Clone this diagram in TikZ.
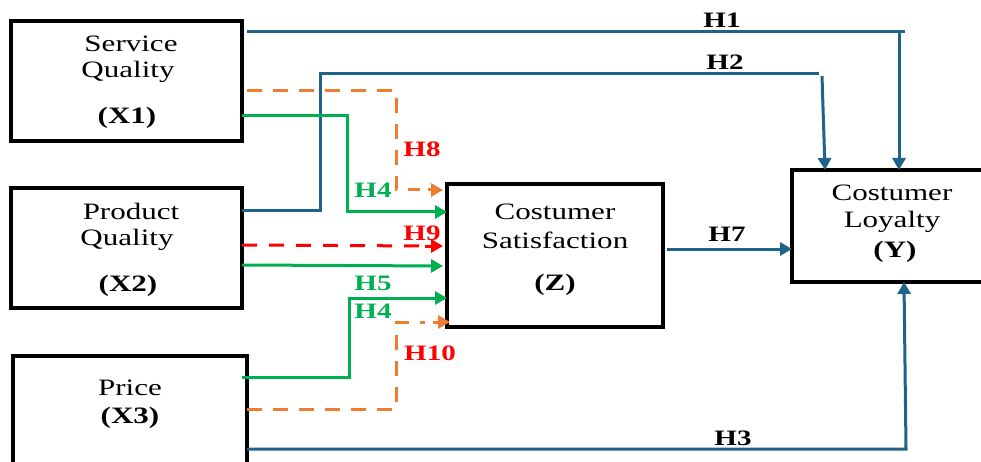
\documentclass[tikz,border=0pt]{standalone}
\usepackage{fontspec}
\setmainfont[FakeStretch=1.32]{Liberation Serif}
\usetikzlibrary{arrows.meta}
\definecolor{cblue}{HTML}{1F6388}
\definecolor{cgreen}{HTML}{00B050}
\definecolor{corange}{HTML}{ED7D31}
\definecolor{cred}{HTML}{FF0000}
\tikzset{
  box/.style={draw=black,line width=3.5pt,inner sep=0pt},
  txt/.style={font=\fontsize{23.5}{27}\selectfont,align=center,inner sep=0pt},
  btxt/.style={font=\fontsize{23.5}{27}\selectfont\bfseries,align=center,inner sep=0pt},
  hlab/.style={font=\fontsize{22}{25}\selectfont\bfseries,inner sep=0pt},
  tip/.style={-{Triangle[length=12pt,width=13pt]}},
  bl/.style={draw=cblue,line width=3pt},
  gr/.style={draw=cgreen,line width=3pt},
  og/.style={draw=corange,line width=3pt,dash pattern=on 15pt off 11pt},
  rd/.style={draw=cred,line width=3pt,dash pattern=on 15pt off 12pt},
}
\begin{document}
\begin{tikzpicture}[x=1pt,y=-1pt]
\useasboundingbox (0,0) rectangle (981,462);
% cut-off caption letter
\node[txt,anchor=base] (cap) at (265,-6) {p};
% boxes
\draw[box] (11,21) rectangle (242,141);
\draw[box] (11,188) rectangle (242,308);
\draw[box] (13,356) rectangle (247,480);
\draw[box] (447,184) rectangle (663,327);
\draw[box] (792,170) rectangle (985,282);
% named anchor coordinates
\coordinate (x1a) at (247,32);
\coordinate (x1b) at (247,91);
\coordinate (x1c) at (242,116);
\coordinate (x2a) at (242,211);
\coordinate (x2b) at (242,245);
\coordinate (x2c) at (242,265);
\coordinate (x3a) at (242,377);
\coordinate (x3b) at (247,409);
\coordinate (x3c) at (247,449);
% texts
\node[txt] (t1) at (131,44) {Service};
\node[txt] (t2) at (128,72) {Quality};
\node[btxt] (t3) at (127,118) {(X1)};
\node[txt] (t4) at (131,211) {Product};
\node[txt] (t5) at (127,240) {Quality};
\node[btxt] (t6) at (128,286) {(X2)};
\node[txt] (t7) at (130,388) {Price};
\node[btxt] (t8) at (130,418) {(X3)};
\node[txt] (t9) at (555,212) {Costumer};
\node[txt] (t10) at (555,240) {Satisfaction};
\node[btxt] (t11) at (555,285) {(Z)};
\node[txt] (t12) at (892,193) {Costumer};
\node[txt] (t13) at (892,222) {Loyalty};
\node[btxt] (t14) at (895,252) {(Y)};
% blue paths
\draw[bl] (x1a) -- (905,32);
\draw[bl,tip] (899,32) -- (899,170);
\draw[bl] (x2a) -- (320,211) -- (320,74) -- (819,74);
\draw[bl,tip] (822,76) -- (825,170);
\draw[bl,tip] (x3c) -- (906,449) -- (904,282);
\draw[bl,tip] (667,249) -- (792,249);
% green paths
\draw[gr,tip] (x1c) -- (347,116) -- (347,212) -- (447,212);
\draw[gr,tip] (x2c) -- (443,266);
\draw[gr,tip] (x3a) -- (349,377) -- (349,298) -- (447,298);
% orange / red dashed
\draw[og] (x1b) -- (396,91) -- (396,190) -- (420,190);
\draw[corange,line width=3pt,tip] (428,190) -- (443,190);
\draw[rd] (x2b) -- (430,246);
\draw[cred,line width=3pt,tip] (425,246) -- (443,246);
\draw[og] (x3b) -- (396,409) -- (396,322) -- (425,322);
\draw[corange,line width=3pt,tip] (433,322) -- (450,322);
% labels
\node[hlab] (h1) at (722,20) {H1};
\node[hlab] (h2) at (725,62) {H2};
\node[hlab] (h3) at (733,438) {H3};
\node[hlab] (h7) at (727,234) {H7};
\node[hlab,text=cgreen] (h4a) at (373,190) {H4};
\node[hlab,text=cgreen] (h5) at (373,283) {H5};
\node[hlab,text=cgreen] (h4b) at (373,311) {H4};
\node[hlab,text=cred] (h8) at (422,149) {H8};
\node[hlab,text=cred] (h9) at (422,233) {H9};
\node[hlab,text=cred] (h10) at (430,353) {H10};
\end{tikzpicture}
\end{document}
